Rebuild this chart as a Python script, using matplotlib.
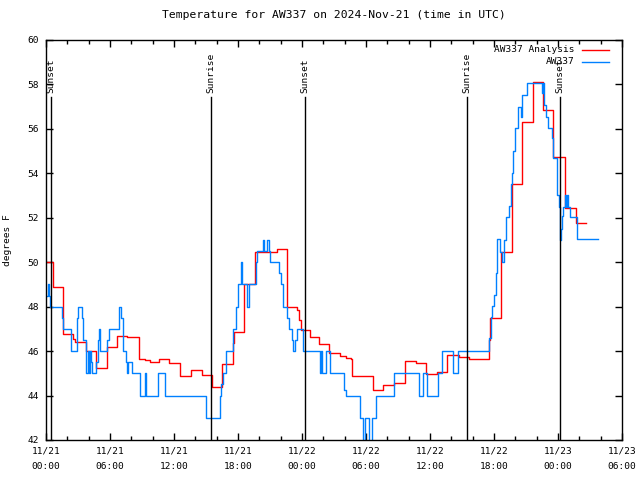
import numpy as np
import matplotlib
matplotlib.use("Agg")
import matplotlib.pyplot as plt
from matplotlib.lines import Line2D

# hours since 11/21 00:00 UTC, value in degrees F (step changes)
analysis_hours = [0.0, 0.69, 1.63, 2.56, 2.69, 3.75, 4.66, 5.69, 6.63, 7.63,
                  8.69, 9.28, 9.72, 10.63, 11.56, 12.56, 13.59, 14.6, 15.53, 16.53,
                  17.56, 17.65, 18.59, 19.6, 21.63, 22.63, 23.56, 23.72, 23.9, 24.75,
                  25.6, 26.56, 27.6, 28.1, 28.6, 28.7, 30.62, 31.56, 32.66, 33.66,
                  34.69, 35.63, 36.69, 37.56, 38.75, 39.69, 41.5, 41.6, 42.63, 43.66,
                  44.6, 45.63, 46.56, 47.56, 48.66, 49.66, 50.6]
analysis_temp = [50.0, 48.87, 46.77, 46.55, 46.4, 46.02, 45.22, 46.17, 46.7, 46.65,
                 45.65, 45.6, 45.5, 45.65, 45.45, 44.88, 45.15, 44.92, 44.4, 45.4,
                 46.35, 46.87, 49.02, 50.47, 50.6, 48.0, 47.85, 47.4, 46.95, 46.65,
                 46.32, 45.9, 45.78, 45.68, 45.63, 44.88, 44.25, 44.46, 44.58, 45.57,
                 45.45, 44.97, 45.07, 45.83, 45.72, 45.63, 46.5, 47.47, 50.45, 53.5,
                 56.3, 58.1, 56.85, 54.72, 52.45, 51.75, 51.75]

obs_hours = [0.0, 0.15, 0.3, 0.4, 1.47, 1.6, 2.31, 2.87, 3.03, 3.34,
             3.45, 3.75, 3.9, 4.0, 4.1, 4.2, 4.3, 4.66, 4.84, 4.94,
             5.03, 5.69, 5.94, 6.87, 7.0, 7.25, 7.5, 7.62, 7.72, 8.03,
             8.81, 9.28, 9.37, 10.53, 11.16, 15.03, 16.31, 16.41, 16.62, 16.87,
             17.56, 17.81, 18.03, 18.31, 18.41, 18.81, 19.03, 19.69, 19.81, 20.38,
             20.44, 20.69, 20.87, 21.0, 21.87, 22.03, 22.19, 22.62, 22.81, 23.03,
             23.2, 23.35, 23.5, 24.12, 25.69, 25.8, 25.9, 26.25, 26.62, 27.94,
             28.12, 29.44, 29.75, 29.91, 30.31, 30.53, 30.94, 32.62, 35.0, 35.31,
             35.75, 36.78, 37.09, 38.19, 38.66, 41.56, 41.69, 41.84, 42.03, 42.16,
             42.31, 42.56, 42.72, 42.97, 43.13, 43.44, 43.59, 43.72, 43.81, 43.97,
             44.28, 44.5, 44.66, 45.06, 46.47, 46.63, 46.72, 46.88, 47.09, 47.41,
             47.56, 47.87, 48.09, 48.19, 48.25, 48.34, 48.5, 48.66, 48.75, 48.87,
             48.97, 49.12, 49.81, 51.72]
obs_temp = [48.5, 49.0, 48.5, 48.0, 47.5, 47.0, 46.0, 47.5, 48.0, 47.5,
            46.5, 45.0, 46.0, 45.0, 46.0, 45.5, 45.0, 45.5, 46.5, 47.0,
            46.0, 46.5, 47.0, 48.0, 47.5, 46.0, 45.5, 45.0, 45.5, 45.0,
            44.0, 45.0, 44.0, 45.0, 44.0, 43.0, 44.0, 44.5, 45.0, 46.0,
            47.0, 48.0, 49.0, 50.0, 49.0, 48.0, 49.0, 50.0, 50.5, 51.0,
            50.5, 51.0, 50.5, 50.0, 49.5, 49.0, 48.0, 47.5, 47.0, 46.5,
            46.0, 46.5, 47.0, 46.0, 45.0, 46.0, 45.0, 46.0, 45.0, 44.25,
            44.0, 43.0, 41.8, 43.0, 41.8, 43.0, 44.0, 45.0, 44.0, 45.0,
            44.0, 45.0, 46.0, 45.0, 46.0, 46.58, 47.52, 48.03, 48.53, 49.5,
            51.03, 50.47, 50.0, 51.0, 52.02, 52.55, 53.52, 54.0, 55.02, 56.03,
            57.0, 56.55, 57.53, 58.05, 57.6, 58.05, 57.08, 56.55, 56.03, 55.58,
            54.68, 53.03, 52.5, 51.0, 51.5, 52.1, 52.5, 53.03, 52.5, 53.03,
            52.5, 52.05, 51.03, 51.03]

sun_hours = [0.47, 15.47, 24.28, 39.47, 48.19]
sun_labels = ["Sunset", "Sunrise", "Sunset", "Sunrise", "Sunset"]

xtick_hours = [0, 6, 12, 18, 24, 30, 36, 42, 48, 54]
xtick_labels = ["11/21\n00:00", "11/21\n06:00", "11/21\n12:00", "11/21\n18:00",
                "11/22\n00:00", "11/22\n06:00", "11/22\n12:00", "11/22\n18:00",
                "11/23\n00:00", "11/23\n06:00"]

plt.rcParams["font.family"] = "DejaVu Sans Mono"
plt.rcParams["font.size"] = 6.8

fig = plt.figure(figsize=(6.4, 4.8), dpi=100)
ax = fig.add_axes([46 / 640, 1 - 440 / 480, 576 / 640, 400 / 480])

red = "#ff0000"
blue = "#0080ff"
ax.step(analysis_hours, analysis_temp, where="post", color=red, lw=1.0)
ax.step(obs_hours, obs_temp, where="post", color=blue, lw=1.0)

for h, lab in zip(sun_hours, sun_labels):
    ax.plot([h, h], [42, 57.45], color="black", lw=1.0)
    ax.text(h, 57.6, lab, rotation=90, ha="center", va="bottom")

ax.set_xlim(0, 54)
ax.set_ylim(42, 60)
ax.set_xticks(xtick_hours)
ax.set_xticklabels(xtick_labels, linespacing=1.8)
ax.set_xticks(np.arange(0, 55, 2), minor=True)
ax.set_yticks(np.arange(42, 61, 2))
ax.tick_params(which="both", direction="in", top=True, right=True, width=1.0, color="black")
ax.tick_params(which="major", length=5, pad=5)
ax.tick_params(which="minor", length=3)
for s in ax.spines.values():
    s.set_linewidth(1.0)

ax.set_ylabel("degrees F", labelpad=11)
ax.set_title("Temperature for AW337 on 2024-Nov-21 (time in UTC)", pad=16)

# gnuplot-style key: text right-aligned, sample line after it
key_items = [("AW337 Analysis", red), ("AW337", blue)]
for i, (lab, col) in enumerate(key_items):
    y = (440 - 50 - 12 * i) / 400
    ax.text((575 - 46) / 576, y, lab, transform=ax.transAxes, ha="right", va="center")
    ax.add_line(Line2D([(582 - 46) / 576, (609 - 46) / 576], [y, y],
                       transform=ax.transAxes, color=col, lw=1.0))

fig.savefig("out.png", dpi=100)
